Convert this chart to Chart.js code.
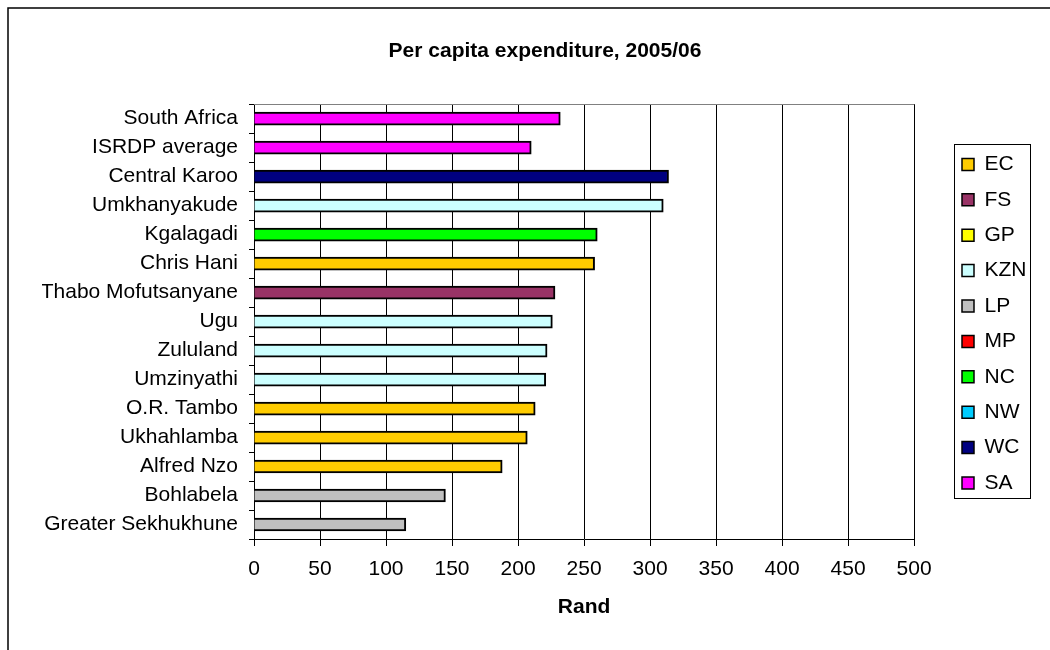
<!DOCTYPE html>
<html>
<head>
<meta charset="utf-8">
<script src="https://cdn.jsdelivr.net/npm/chart.js@4.4.0/dist/chart.umd.min.js"></script>
<style>
  html, body { margin: 0; padding: 0; background: #fff; }
  #wrap { position: relative; width: 1050px; height: 650px; }
</style>
</head>
<body>
<div id="wrap"><canvas id="c" width="1050" height="650"></canvas></div>
<script>
// ---- data ----
const categories = ['South Africa', 'ISRDP average', 'Central Karoo', 'Umkhanyakude', 'Kgalagadi', 'Chris Hani',
  'Thabo Mofutsanyane', 'Ugu', 'Zululand', 'Umzinyathi', 'O.R. Tambo', 'Ukhahlamba', 'Alfred Nzo', 'Bohlabela',
  'Greater Sekhukhune'];
const perCapita = [232, 210, 314, 310, 260, 258, 228, 226, 222, 221, 213, 207, 188, 145, 115];
const barProvince = ['SA', 'SA', 'WC', 'KZN', 'NC', 'EC', 'FS', 'KZN', 'KZN', 'KZN', 'EC', 'EC', 'EC', 'LP', 'LP'];
const provinces = ['EC', 'FS', 'GP', 'KZN', 'LP', 'MP', 'NC', 'NW', 'WC', 'SA'];
const provinceColors = ['#FFCC00', '#993366', '#FFFF00', '#CCFFFF', '#C0C0C0', '#FF0000', '#00FF00', '#00CCFF', '#000080', '#FF00FF'];
const xTicks = [0, 50, 100, 150, 200, 250, 300, 350, 400, 450, 500];

const colorOf = p => provinceColors[provinces.indexOf(p)];
const FONT = 'Arial, "Liberation Sans", sans-serif';

const frame = {
  id: 'frame',
  afterLayout(chart) {
    // centre the title on the outer frame and put the legend where the reference has it
    const t = chart.titleBlock;
    if (t) {
      const d = 545 - (t.left + t.right) / 2;
      t.left += d; t.right += d;
    }
    const lg = chart.legend;
    if (lg) {
      const w = lg.width;
      lg.left = 962 - lg.options.labels.padding;
      lg.right = lg.left + w;
      lg.top += 12;
      lg.bottom += 12;
    }
  },
  beforeDraw(chart) {
    const ctx = chart.ctx;
    ctx.save();
    ctx.fillStyle = '#fff';
    ctx.fillRect(0, 0, chart.width, chart.height);
    ctx.strokeStyle = '#000';
    ctx.lineWidth = 1.5;
    ctx.strokeRect(8, 8, 1200, 800);
    ctx.restore();
  },
  beforeDatasetsDraw(chart) {
    const {ctx, chartArea: a} = chart;
    ctx.save();
    ctx.strokeStyle = '#808080';
    ctx.lineWidth = 1;
    ctx.beginPath();
    ctx.moveTo(a.left, Math.round(a.top) + 0.5);
    ctx.lineTo(a.right, Math.round(a.top) + 0.5);
    ctx.stroke();
    ctx.restore();
  },
  afterDraw(chart) {
    const lg = chart.legend;
    if (!lg || !lg.legendHitBoxes || !lg.legendHitBoxes.length) return;
    const hb = lg.legendHitBoxes;
    const first = hb[0], last = hb[hb.length - 1];
    const left = Math.min(...hb.map(h => h.left)) - 8;
    const top = first.top - 10;
    const bottom = last.top + last.height + 4;
    const right = 1030;
    const ctx = chart.ctx;
    ctx.save();
    ctx.strokeStyle = '#000';
    ctx.lineWidth = 1;
    ctx.strokeRect(Math.round(left) + 0.5, Math.round(top) + 0.5, Math.round(right - left), Math.round(bottom - top));
    ctx.restore();
  }
};

new Chart(document.getElementById('c'), {
  type: 'bar',
  data: {
    labels: categories,
    datasets: [{
      label: 'Per capita expenditure',
      data: perCapita,
      backgroundColor: barProvince.map(colorOf),
      borderColor: '#000',
      borderWidth: 2,
      barThickness: 13
    }]
  },
  options: {
    indexAxis: 'y',
    responsive: false,
    animation: false,
    devicePixelRatio: 1,
    layout: { padding: { left: 42, right: 47, bottom: 26.6, top: 0 } },
    plugins: {
      title: {
        display: true,
        text: 'Per capita expenditure, 2005/06',
        color: '#000',
        font: { family: FONT, size: 21, weight: 'bold' },
        padding: { top: 39, bottom: 40 }
      },
      legend: {
        display: true,
        position: 'right',
        labels: {
          color: '#000',
          font: { family: FONT, size: 21 },
          boxWidth: 12,
          boxHeight: 12,
          padding: 14.4,
          generateLabels: () => provinces.map((p, i) => ({
            text: p,
            fillStyle: provinceColors[i],
            strokeStyle: '#000',
            lineWidth: 1.5,
            hidden: false,
            datasetIndex: 0
          }))
        },
        onClick: () => {}
      },
      tooltip: { enabled: false }
    },
    scales: {
      x: {
        type: 'linear',
        min: 0,
        max: 500,
        afterBuildTicks: s => { s.ticks = xTicks.map(v => ({ value: v })); },
        ticks: {
          color: '#000',
          font: { family: FONT, size: 21 },
          padding: 11,
          maxRotation: 0
        },
        grid: { color: '#000', lineWidth: 1, tickLength: 7, drawOnChartArea: true },
        border: { color: '#000', width: 1 },
        title: {
          display: true,
          text: 'Rand',
          color: '#000',
          font: { family: FONT, size: 21, weight: 'bold' },
          padding: { top: 1, bottom: 4 }
        }
      },
      y: {
        type: 'category',
        offset: true,
        afterFit: s => { s.width = 212; },
        ticks: {
          color: '#000',
          font: { family: FONT, size: 21 },
          padding: 11,
          autoSkip: false
        },
        grid: { offset: true, drawOnChartArea: false, color: '#000', tickLength: 5 },
        border: { color: '#000', width: 1 }
      }
    }
  },
  plugins: [frame]
});
</script>
</body>
</html>
